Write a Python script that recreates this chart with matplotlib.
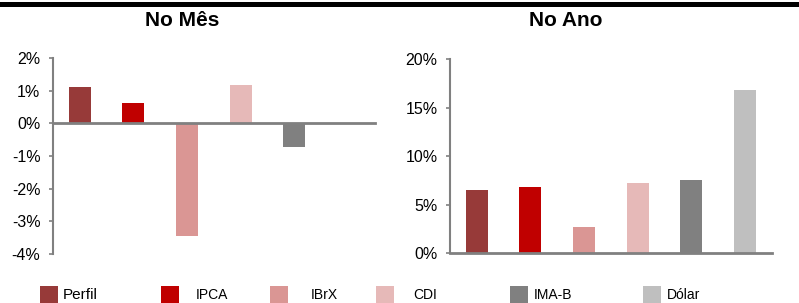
import numpy as np
import matplotlib.pyplot as plt
from matplotlib.patches import Rectangle
from matplotlib.ticker import FuncFormatter

plt.rcParams['font.family'] = ['Liberation Sans', 'DejaVu Sans']

# categories and values (%)
categorias = ['Perfil', 'IPCA', 'IBrX', 'CDI', 'IMA-B', 'Dólar']
no_mes = [1.10, 0.61, -3.45, 1.16, -0.72, np.nan]
no_ano = [6.5, 6.8, 2.7, 7.2, 7.5, 16.8]
cores = ['#973A39', '#C00000', '#DA9694', '#E6B9B8', '#808080', '#BFBFBF']

fig = plt.figure(figsize=(7.99, 3.03), dpi=100)

# black band on top
fig.add_artist(Rectangle((0, 0.977), 1, 0.0165, transform=fig.transFigure,
                         facecolor='black', edgecolor='none'))

pct = FuncFormatter(lambda v, p: '%d%%' % round(v))
cinza = '#808080'
x = np.arange(len(categorias))


def estilo(ax):
    for s in ['top', 'right']:
        ax.spines[s].set_visible(False)
    ax.spines['left'].set_color(cinza)
    ax.spines['left'].set_linewidth(1.5)
    ax.spines['bottom'].set_color(cinza)
    ax.spines['bottom'].set_linewidth(2)
    ax.tick_params(axis='y', direction='out', length=3, width=1.2, color=cinza,
                   labelsize=11.5, pad=6)
    ax.tick_params(axis='x', length=0, labelbottom=False)
    ax.yaxis.set_major_formatter(pct)
    ax.set_xlim(-0.5, len(categorias) - 0.5)
    ax.patch.set_alpha(0)


# No Mês
ax1 = fig.add_axes([0.0663, 0.1617, 0.403, 0.647])
ax1.bar(x, no_mes, width=0.41, color=cores)
ax1.set_ylim(-4, 2)
ax1.set_yticks(np.arange(-4, 3, 1))
estilo(ax1)
ax1.spines['bottom'].set_position(('data', 0))

# No Ano
ax2 = fig.add_axes([0.5632, 0.165, 0.403, 0.640])
ax2.bar(x, no_ano, width=0.41, color=cores)
ax2.set_ylim(0, 20)
ax2.set_yticks(np.arange(0, 21, 5))
estilo(ax2)

fig.text(182 / 799, 1 - 21 / 303, 'No Mês', ha='center', va='center',
         fontsize=15, fontweight='bold')
fig.text(566 / 799, 1 - 21 / 303, 'No Ano', ha='center', va='center',
         fontsize=15, fontweight='bold')

# legend, placed like the original
patch_x = [40, 161, 270, 376, 510, 643]
text_x = [63, 196, 311, 413, 534, 667]
tamanhos = [11, 10, 10, 10, 10, 10]
for cat, cor, px, tx, fs in zip(categorias, cores, patch_x, text_x, tamanhos):
    fig.add_artist(Rectangle((px / 799, 0), 18 / 799, 17 / 303,
                             transform=fig.transFigure, facecolor=cor,
                             edgecolor='none'))
    fig.text(tx / 799, 1 - 295 / 303, cat, ha='left', va='center', fontsize=fs)

fig.savefig('out.png', dpi=100)
